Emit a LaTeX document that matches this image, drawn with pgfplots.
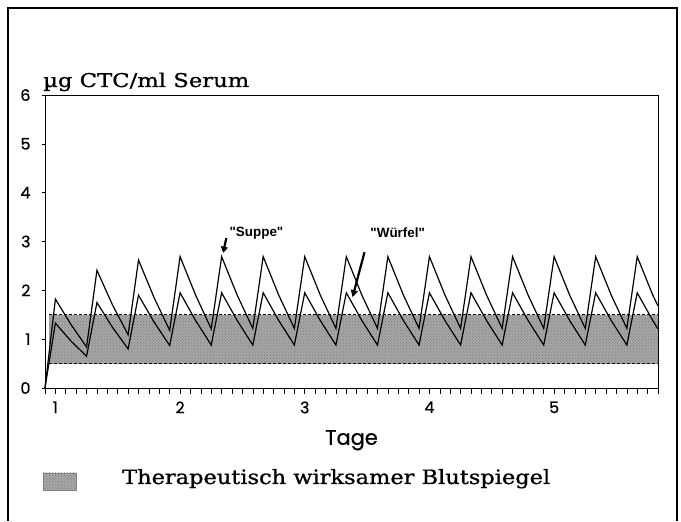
\documentclass[border=0pt]{standalone}
\usepackage{fontspec}
\usepackage{pgfplots}
\pgfplotsset{compat=1.18}
\usetikzlibrary{patterns,arrows.meta}
\setmainfont{DejaVu Serif}
\newfontfamily\slab[FakeBold=0.8]{DejaVu Serif}
\newfontfamily\geo[FakeBold=0.7]{Poppins}
\newfontfamily\lsans{Liberation Sans}
\definecolor{bandgray}{gray}{0.66}
\begin{document}
\begin{tikzpicture}[x=1bp,y=1bp]
\path (0,0) rectangle (681,521);
\draw[line width=1.2bp] (8,0) -- (8,513) -- (677,513) -- (677,0);
\node[anchor=base west, inner sep=0pt] at (43,434) {\scalebox{1.2}[1]{\slab\fontsize{19}{19}\selectfont µg CTC/ml Serum}};
\fill[bandgray] (43,31) rectangle (76,48);
\fill[pattern=crosshatch dots, pattern color=black!55] (43,31) rectangle (76,48);
\draw[gray, line width=0.5bp] (43,31) rectangle (76,48);
\node[anchor=base west, inner sep=0pt] at (122,37) {\scalebox{1.14}[1]{\slab\fontsize{19.8}{19.8}\selectfont Therapeutisch wirksamer Blutspiegel}};
\begin{axis}[
  at={(45bp,133bp)}, anchor=south west,
  scale only axis, width=613bp, height=293bp,
  xmin=0, xmax=118, ymin=0, ymax=6,
  xtick={2,26,50,74,98}, xticklabels={1,2,3,4,5},
  minor xtick={0,2,...,118},
  ytick={0,1,...,6},
  tick align=outside, tick pos=left,
  major tick length=6bp, minor tick length=6bp,
  ytick style={/pgfplots/major tick length=3bp},
  tick style={black, line width=0.6bp},
  /pgf/number format/assume math mode=true,
  ticklabel style={font=\geo\fontsize{16}{16}\selectfont},
  yticklabel style={xshift=-5bp},
  xticklabel style={yshift=-4bp},
  xlabel={Tage},
  xlabel style={font=\geo\fontsize{21}{21}\selectfont, yshift=-10bp},
  axis line style={line width=0.8bp},
  clip=false,
]
\addplot[draw=none, fill=bandgray] coordinates {(0.8,0.5) (118,0.5) (118,1.5) (0.8,1.5)} -- cycle;
\addplot[draw=none, pattern=crosshatch dots, pattern color=black!55] coordinates {(0.8,0.5) (118,0.5) (118,1.5) (0.8,1.5)} -- cycle;
\addplot[black, densely dashed, line width=0.5bp] coordinates {(0.8,0.5) (118,0.5)};
\addplot[black, densely dashed, line width=0.5bp] coordinates {(0.8,1.5) (118,1.5)};
\addplot[black, line width=1.2bp, line join=miter] coordinates {
(0,0)(2,1.82)(5,1.30)(8,0.84)(10,2.41)(13,1.70)(16,1.09)(18,2.62)(21,1.85)(24,1.18)
(26,2.69)(29,1.90)(32,1.21)(34,2.69)(37,1.90)(40,1.22)(42,2.69)(45,1.90)(48,1.22)
(50,2.69)(53,1.90)(56,1.22)(58,2.69)(61,1.90)(64,1.22)(66,2.69)(69,1.90)(72,1.22)
(74,2.69)(77,1.90)(80,1.22)(82,2.69)(85,1.90)(88,1.22)(90,2.69)(93,1.90)(96,1.22)
(98,2.69)(101,1.90)(104,1.22)(106,2.69)(109,1.90)(112,1.22)(114,2.69)(117,1.90)(118,1.68)};
\addplot[black, line width=1.2bp, line join=miter] coordinates {
(0,0)(2,1.33)(5,0.96)(8,0.65)(10,1.75)(13,1.24)(16,0.80)(18,1.90)(21,1.35)(24,0.87)
(26,1.95)(29,1.38)(32,0.88)(34,1.95)(37,1.38)(40,0.88)(42,1.95)(45,1.38)(48,0.88)
(50,1.95)(53,1.38)(56,0.88)(58,1.95)(61,1.38)(64,0.88)(66,1.95)(69,1.38)(72,0.88)
(74,1.95)(77,1.38)(80,0.88)(82,1.95)(85,1.38)(88,0.88)(90,1.95)(93,1.38)(96,0.88)
(98,1.95)(101,1.38)(104,0.88)(106,1.95)(109,1.38)(112,0.88)(114,1.95)(117,1.38)(118,1.21)};
\node[font=\lsans\bfseries\fontsize{13.5}{13.5}\selectfont] at (axis cs:40.7,3.16) {"Suppe"};
\node[font=\lsans\bfseries\fontsize{13.5}{13.5}\selectfont] at (axis cs:67.9,3.18) {"Würfel"};
\draw[line width=2.2bp, -{Triangle[length=6bp,width=7bp]}] (axis cs:34.9,3.07) -- (axis cs:34.3,2.77);
\draw[line width=2.2bp, -{Triangle[length=7bp,width=7bp]}] (axis cs:61.5,2.78) -- (axis cs:59.2,1.86);
\end{axis}
\end{tikzpicture}
\end{document}
